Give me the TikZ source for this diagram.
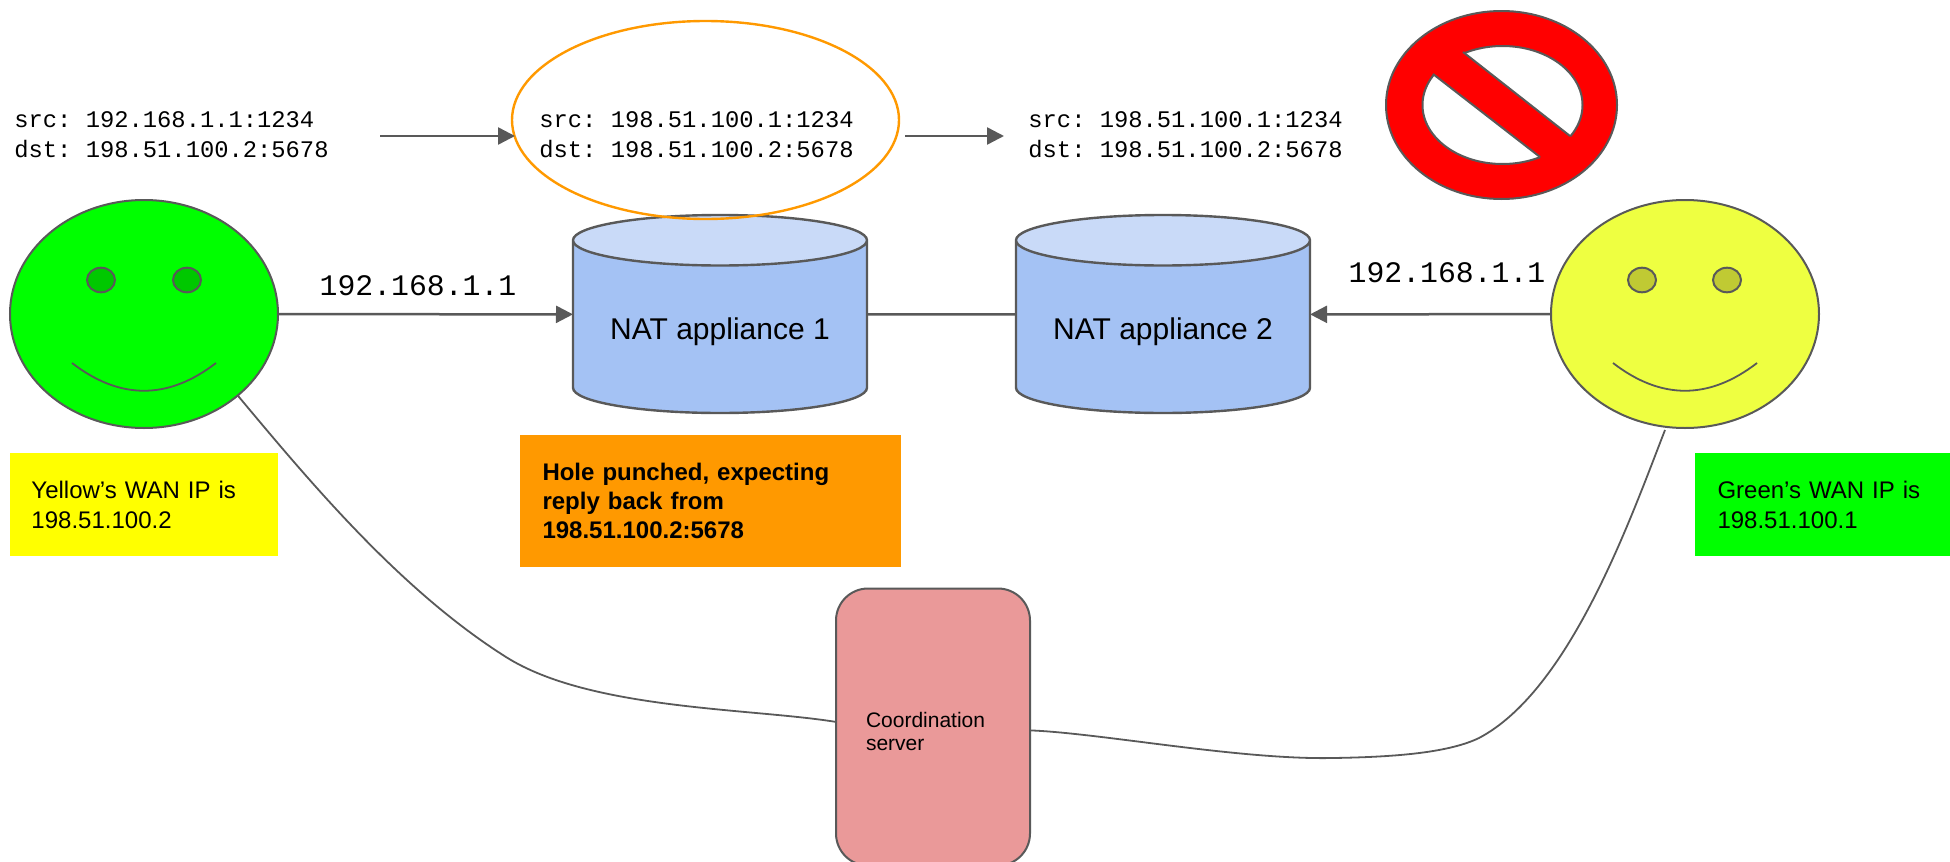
\documentclass[tikz,border=0pt]{standalone}
\usepackage{fontspec}
\setmainfont{Liberation Sans}
\setmonofont{Liberation Mono}
\usepackage{tikz}
\usetikzlibrary{shapes.geometric,arrows.meta}

\definecolor{linegray}{HTML}{595959}
\definecolor{natbody}{HTML}{A4C2F4}
\definecolor{nattop}{HTML}{C9DAF8}
\definecolor{holeorange}{HTML}{FF9900}
\definecolor{srvpink}{HTML}{EA9999}
\definecolor{faceyellow}{HTML}{EEFF41}
\definecolor{eyeyellow}{HTML}{C0CA33}
\definecolor{eyegreen}{HTML}{00C800}
\definecolor{noteyellow}{HTML}{FFFF00}
\definecolor{notegreen}{HTML}{00FF00}
\definecolor{signred}{HTML}{FF0000}

\tikzset{
	face/.style={ellipse,draw=linegray,line width=1pt,outer sep=0pt,inner sep=0pt,minimum width=134pt,minimum height=114pt},
	eye/.style={ellipse,draw=linegray,line width=1pt,outer sep=0pt,inner sep=0pt,minimum width=14pt,minimum height=12.3pt},
	nat/.style={cylinder,shape border rotate=90,aspect=0.23,anchor=shape center,draw=linegray,line width=1.2pt,outer sep=0pt,inner sep=0pt,
		minimum width=147pt,minimum height=99pt,cylinder uses custom fill,cylinder body fill=natbody,cylinder end fill=nattop,
		text height=15pt,font=\fontsize{15}{17}\selectfont},
	packet/.style={anchor=west,inner sep=0pt,align=left,font=\ttfamily\fontsize{11.9}{15}\selectfont},
	addr/.style={inner sep=0pt,font=\ttfamily\fontsize{14.9}{17}\selectfont},
	note/.style={rectangle,inner sep=0pt,align=left,font=\fontsize{12}{15}\selectfont},
	wire/.style={draw=linegray,line width=1.25pt},
	thin wire/.style={draw=linegray,line width=0.9pt},
	arrowed/.style={wire,-{Triangle[length=8.5pt,width=8.5pt]}}
}

\begin{document}
\begin{tikzpicture}[x=0.5pt,y=-0.5pt]
\useasboundingbox (0,0) rectangle (1950,862);

\path (144,314) node[face,fill=notegreen] (green) {}
		(1685,314) node[face,fill=faceyellow] (yellow) {}
		(101,280) node[eye,fill=eyegreen] (greeneyel) {}
		(187,280) node[eye,fill=eyegreen] (greeneyer) {}
		(1642,280) node[eye,fill=eyeyellow] (yelloweyel) {}
		(1727,280) node[eye,fill=eyeyellow] (yelloweyer) {}
		(720,314) node[nat] (nat1) {NAT appliance 1}
		(1163,314) node[nat] (nat2) {NAT appliance 2}
		(705.5,120) node[ellipse,draw=holeorange,line width=1.2pt,inner sep=0pt,minimum width=193.5pt,minimum height=99pt] (hole) {}
		(14,135) node[packet] (pkt1) {src: 192.168.1.1:1234\\dst: 198.51.100.2:5678}
		(539,135) node[packet] (pkt2) {src: 198.51.100.1:1234\\dst: 198.51.100.2:5678}
		(1028,135) node[packet] (pkt3) {src: 198.51.100.1:1234\\dst: 198.51.100.2:5678}
		(418,286) node[addr] (addr1) {192.168.1.1}
		(1447,273) node[addr] (addr2) {192.168.1.1}
		(144,504.5) node[note,fill=noteyellow,minimum width=134pt,minimum height=51.5pt,text width=112.5pt] (yellowip) {Yellow’s WAN IP is\\198.51.100.2}
		(1822.5,504.5) node[note,fill=notegreen,minimum width=127.5pt,minimum height=51.5pt,text width=105pt] (greenip) {Green’s WAN IP is\\198.51.100.1}
		(710.5,501) node[note,fill=holeorange,minimum width=190.5pt,minimum height=66pt,text width=168pt,font=\bfseries\fontsize{12}{14.5}\selectfont] (punched) {Hole punched, expecting\\reply back from\\198.51.100.2:5678}
		(933,727) node[rectangle,rounded corners=16pt,draw=linegray,line width=1pt,fill=srvpink,outer sep=0pt,inner sep=0pt,minimum width=97pt,minimum height=138.5pt,text width=67pt,align=left,font=\fontsize{10.5}{11.75}\selectfont] (srv) {\rule{0pt}{12pt}Coordination\\server}
		(380,136) coordinate (a1)
		(515,136) coordinate (a2)
		(905,136) coordinate (b1)
		(1004,136) coordinate (b2)
		(1665,430) coordinate (yellowfoot);

\draw[arrowed] (node cs:name=green) -- (nat1.175);
\draw[wire] (nat1.5) -- (nat2.175);
\draw[arrowed] (node cs:name=yellow) -- (nat2.5);
\draw[arrowed] (a1) -- (a2);
\draw[arrowed] (b1) -- (b2);

% smiles
\draw[thin wire] (72,363) .. controls (120,400) and (168,400) .. (216,363);
\draw[thin wire] (1613,363) .. controls (1661,400) and (1709,400) .. (1757,363);

% links to the server
\draw[thin wire] (green.-41) .. controls (310,482) and (400,590) .. (506,657)
		.. controls (590,710) and (750,708) .. (srv.177.6);
\draw[thin wire] (srv.-2.4) .. controls (1100,733) and (1240,760) .. (1333,758)
		.. controls (1400,757) and (1450,752) .. (1479,738)
		.. controls (1570,690) and (1630,520) .. (yellowfoot);

% no entry sign
\path (1501.5,105) node[ellipse,draw=linegray,line width=1pt,fill=signred,inner sep=0pt,minimum width=115.5pt,minimum height=94pt] (noentry) {}
		(1502.5,105) node[ellipse,draw=linegray,line width=1pt,fill=white,inner sep=0pt,minimum width=80pt,minimum height=59pt] (noentryin) {};
\fill[signred] (1448,38) -- (1463,52) -- (1570,136) -- (1590,160) -- (1555,178) -- (1540,157) -- (1433,74) -- (1415,58) -- cycle;
\draw[linegray,line width=1pt] (1463,52) -- (1570,136);
\draw[linegray,line width=1pt] (1433,74) -- (1540,157);
\end{tikzpicture}
\end{document}
